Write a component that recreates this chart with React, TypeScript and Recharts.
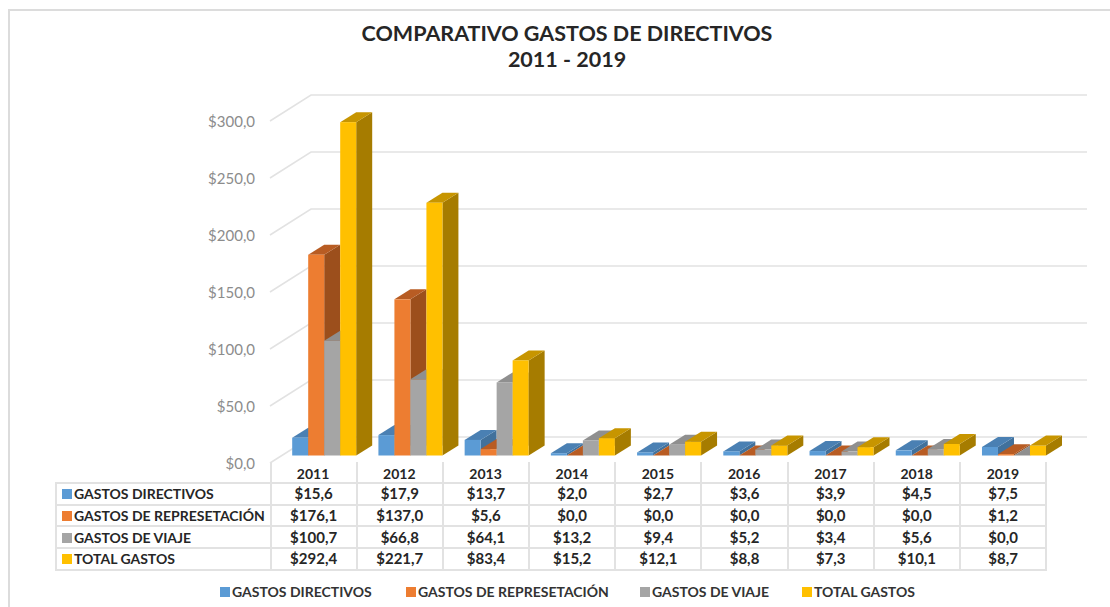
import { Bar, BarChart, CartesianGrid, Legend, XAxis, YAxis } from "recharts"

const years = ["2011", "2012", "2013", "2014", "2015", "2016", "2017", "2018", "2019"]
const directivos = [15.6, 17.9, 13.7, 2.0, 2.7, 3.6, 3.9, 4.5, 7.5]
const representacion = [176.1, 137.0, 5.6, 0, 0, 0, 0, 0, 1.2]
const viaje = [100.7, 66.8, 64.1, 13.2, 9.4, 5.2, 3.4, 5.6, 0]
const total = [292.4, 221.7, 83.4, 15.2, 12.1, 8.8, 7.3, 10.1, 8.7]
const yTicks = [0, 50, 100, 150, 200, 250, 300]

const seriesInfo = [
  { key: "directivos", name: "GASTOS DIRECTIVOS", values: directivos, color: "#5b9bd5", side: "#41719c", top: "#4a80b3" },
  { key: "representacion", name: "GASTOS DE REPRESETACIÓN", values: representacion, color: "#ed7d31", side: "#9c4f1c", top: "#b85c23" },
  { key: "viaje", name: "GASTOS DE VIAJE", values: viaje, color: "#a5a5a5", side: "#7a7a7a", top: "#8f8f8f" },
  { key: "total", name: "TOTAL GASTOS", values: total, color: "#ffc000", side: "#a67c00", top: "#c79500" },
]

const chartData = years.map((year, i) => ({
  year,
  directivos: directivos[i],
  representacion: representacion[i],
  viaje: viaje[i],
  total: total[i],
}))

const money = (v: number) => "$" + v.toFixed(1).replace(".", ",")
const FONT = "Lato, 'Open Sans', sans-serif"

// depth of the fake 3D floor
const WALL_DX = 41
const WALL_DY = 26
// bars stand a bit behind the front edge
const BAR_SHIFT_X = 10.6
const BAR_SHIFT_Y = 7.5
const BAR_DX = 16
const BAR_DY = 10

function Box3D(props: any) {
  const { x, y, width, height, fill, side, top } = props
  const x0 = x + BAR_SHIFT_X
  const x1 = x0 + width
  const yTop = y - BAR_SHIFT_Y
  const yBottom = yTop + height
  return (
    <g>
      <path d={`M${x1},${yTop}L${x1 + BAR_DX},${yTop - BAR_DY}L${x1 + BAR_DX},${yBottom - BAR_DY}L${x1},${yBottom}Z`} fill={side} />
      <path d={`M${x0},${yTop}L${x0 + BAR_DX},${yTop - BAR_DY}L${x1 + BAR_DX},${yTop - BAR_DY}L${x1},${yTop}Z`} fill={top} />
      <rect x={x0} y={yTop} width={width} height={height} fill={fill} />
    </g>
  )
}

function WallLine(props: any) {
  const { x1, y1, x2 } = props
  return (
    <path
      d={`M${x1},${y1}L${x1 + WALL_DX},${y1 - WALL_DY}L${x2 + WALL_DX},${y1 - WALL_DY}`}
      fill="none"
      stroke="#e2e2e2"
      strokeWidth={1.5}
    />
  )
}

function LegendRow(props: any) {
  const { payload } = props
  return (
    <div style={{ display: "flex", justifyContent: "flex-start", paddingLeft: 220, fontFamily: FONT, fontWeight: 700, fontSize: 14, color: "#333" }}>
      {(payload || []).map((item: any, i: number) => (
        <div key={item.value} style={{ display: "flex", alignItems: "center", whiteSpace: "nowrap", width: [186, 234, 162, 120][i] }}>
          <span style={{ width: 10, height: 10, background: item.color, marginRight: 2, display: "inline-block" }} />
          <span>{item.value}</span>
        </div>
      ))}
    </div>
  )
}

const cellBorder = "2px solid #e2e2e2"

function DataTable() {
  return (
    <table
      style={{
        position: "absolute",
        left: 55,
        top: 462,
        width: 991,
        tableLayout: "fixed",
        borderCollapse: "collapse",
        fontFamily: FONT,
        fontWeight: 700,
        fontSize: 15,
        color: "#262626",
      }}
    >
      <colgroup>
        <col style={{ width: 214.5 }} />
        {years.map((y) => (
          <col key={y} style={{ width: 86.2 }} />
        ))}
      </colgroup>
      <tbody>
        <tr style={{ height: 21 }}>
          <td style={{ padding: 0 }} />
          {years.map((y) => (
            <td key={y} style={{ padding: 0, borderLeft: cellBorder, borderRight: cellBorder }} />
          ))}
        </tr>
        {seriesInfo.map((s) => (
          <tr key={s.key} style={{ height: 21.7 }}>
            <td style={{ padding: "0 0 0 5px", border: cellBorder, whiteSpace: "nowrap", fontSize: 14, lineHeight: "17px" }}>
              <span style={{ display: "inline-block", width: 10, height: 10, background: s.color, marginRight: 2 }} />
              {s.name}
            </td>
            {s.values.map((v, i) => (
              <td key={years[i]} style={{ padding: 0, border: cellBorder, textAlign: "center", lineHeight: "17px" }}>
                {money(v)}
              </td>
            ))}
          </tr>
        ))}
      </tbody>
    </table>
  )
}

export default function App() {
  return (
    <div style={{ position: "absolute", left: 0, top: 0, width: 1110, height: 607, background: "#fff", overflow: "hidden" }}>
      <div style={{ position: "absolute", left: 8, top: 9, width: 1110, height: 620, borderLeft: "2px solid #dcdcdc", borderTop: "2px solid #dcdcdc" }} />
      <div
        style={{
          position: "absolute",
          left: 0,
          top: 20,
          width: 1134,
          textAlign: "center",
          fontFamily: FONT,
          fontWeight: 700,
          fontSize: 21.5,
          lineHeight: "26px",
          color: "#262626",
        }}
      >
        COMPARATIVO GASTOS DE DIRECTIVOS
        <br />
        2011 - 2019
      </div>
      <DataTable />
      <div style={{ position: "absolute", left: 0, top: 0 }}>
        <BarChart
          width={1110}
          height={607}
          data={chartData}
          margin={{ top: 121, right: 64, bottom: 114, left: 200 }}
          barCategoryGap="13.45%"
          barGap={0}
        >
          <CartesianGrid vertical={false} horizontal={(p: any) => <WallLine key={p.key} {...p} />} />
          <XAxis
            dataKey="year"
            height={30}
            axisLine={false}
            tickLine={false}
            tick={{ fontFamily: FONT, fontWeight: 700, fontSize: 14, fill: "#262626", dy: -2 }}
            tickMargin={2}
            interval={0}
          />
          <YAxis
            width={70}
            domain={[0, 300]}
            ticks={yTicks}
            tickFormatter={money}
            axisLine={false}
            tickLine={false}
            tickMargin={9}
            tick={{ fontFamily: FONT, fontSize: 15, fill: "#8c8c8c", dy: 1 }}
          />
          <Legend verticalAlign="middle" itemSorter={null} wrapperStyle={{ top: 583, left: 0, width: 1110 }} content={<LegendRow />} />
          {seriesInfo.map((s) => (
            <Bar
              key={s.key}
              dataKey={s.key}
              name={s.name}
              fill={s.color}
              isAnimationActive={false}
              shape={(p: any) => <Box3D {...p} side={s.side} top={s.top} />}
            />
          ))}
        </BarChart>
      </div>
    </div>
  )
}
